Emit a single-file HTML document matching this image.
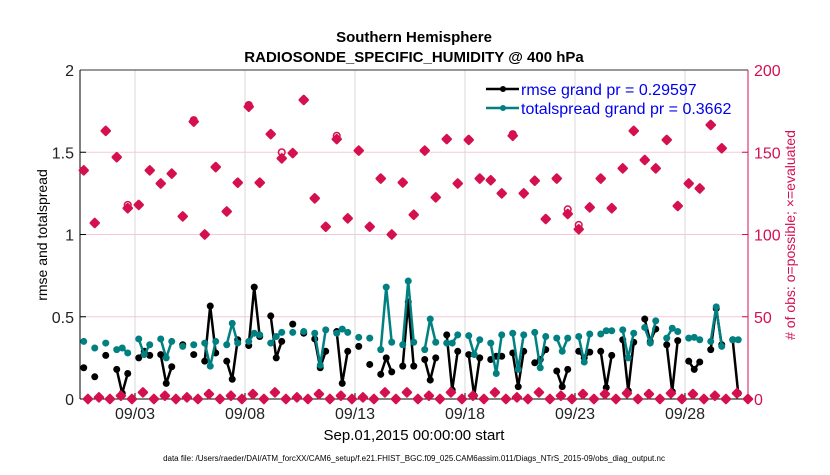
<!DOCTYPE html>
<html><head><meta charset="utf-8"><style>
body{margin:0;background:#fff;}
svg{font-family:"Liberation Sans",sans-serif;}
</style></head><body>
<svg id="chart" width="830" height="470" viewBox="0 0 830 470" xmlns="http://www.w3.org/2000/svg">
<text x="414" y="42" text-anchor="middle" font-size="15" font-weight="bold">Southern Hemisphere</text>
<text x="414" y="62" text-anchor="middle" font-size="15" font-weight="bold">RADIOSONDE_SPECIFIC_HUMIDITY @ 400 hPa</text>
<g id="grid"></g>
<g id="axes"></g>
<g id="marks"></g>
<text transform="translate(47,235) rotate(-90)" text-anchor="middle" font-size="14">rmse and totalspread</text>
<text transform="translate(795,235) rotate(-90)" text-anchor="middle" font-size="14" fill="#d4104f"># of obs: o=possible; ×=evaluated</text>
<text x="414" y="440" text-anchor="middle" font-size="15">Sep.01,2015 00:00:00 start</text>
<text x="414" y="461" text-anchor="middle" font-size="8">data file: /Users/raeder/DAI/ATM_forcXX/CAM6_setup/f.e21.FHIST_BGC.f09_025.CAM6assim.011/Diags_NTrS_2015-09/obs_diag_output.nc</text>
<g>
<line x1="486" y1="89" x2="519" y2="89" stroke="#000" stroke-width="2.5"/><circle cx="503" cy="89" r="3" fill="#000"/>
<text x="521" y="95" font-size="16" fill="#0000ee">rmse grand pr = 0.29597</text>
<line x1="486" y1="108" x2="519" y2="108" stroke="#008080" stroke-width="2.5"/><circle cx="503" cy="108" r="3" fill="#008080"/>
<text x="521" y="114" font-size="16" fill="#0000ee">totalspread grand pr = 0.3662</text>
</g>
</svg>
<script>
const rmseSlots=[0,2,4,6,7,8,10,11,12,14,15,16,18,20,22,23,24,26,27,28,30,31,32,34,35,36,38,40,42,43,44,46,47,48,50,52,54,55,56,58,59,60,62,63,64,66,67,68,70,71,72,74,75,76,78,79,80,82,83,84,86,87,88,90,91,92,94,95,96,98,99,100,102,103,104,106,107,108,110,111,112,114,115,116,118,119];
const rmseValues=[0.19,0.135,0.265,0.18,0.035,0.155,0.25,0.29,0.265,0.27,0.095,0.196,0.33,0.27,0.23,0.565,0.28,0.23,0.12,0.36,0.325,0.68,0.38,0.505,0.25,0.35,0.455,0.40,0.365,0.19,0.29,0.41,0.095,0.29,0.32,0.21,0.15,0.25,0.165,0.20,0.59,0.20,0.24,0.115,0.25,0.39,0.055,0.29,0.27,0.02,0.25,0.24,0.26,0.26,0.28,0.075,0.29,0.22,0.24,0.30,0.17,0.075,0.18,0.29,0.25,0.285,0.29,0.07,0.265,0.36,0.05,0.345,0.486,0.35,0.425,0.33,0.045,0.355,0.23,0.18,0.225,0.30,0.55,0.33,0.36,0.035];
const spreadValues=[0.35,0.31,0.34,0.30,0.31,0.28,0.365,0.27,0.33,0.365,0.25,0.35,0.32,0.33,0.34,0.20,0.35,0.33,0.46,0.34,0.35,0.40,0.39,0.34,0.38,0.405,0.405,0.41,0.40,0.205,0.42,0.40,0.425,0.405,0.375,0.37,0.30,0.68,0.345,0.33,0.717,0.345,0.30,0.486,0.345,0.34,0.34,0.39,0.385,0.27,0.36,0.34,0.155,0.39,0.40,0.18,0.39,0.405,0.19,0.38,0.37,0.29,0.37,0.38,0.225,0.395,0.395,0.415,0.415,0.42,0.25,0.40,0.435,0.34,0.475,0.37,0.43,0.41,0.37,0.375,0.36,0.35,0.56,0.32,0.36,0.36];
const obsPossibleUpper=[139,107,163,147,118,118,139,131,137,111,169.5,100,141,114,131.5,178.7,131.5,161,150,149.5,181.8,122,104.7,160,109.8,151,104.7,134,100,131.6,112,151,122.6,158,131,157.5,134,133,125,161,125,132.7,109.4,134,115.3,105.8,116.5,134,116,140.2,163,145.3,140.2,157.5,117.3,131,128,166.6,152.4];
const obsEvalUpper=[139,107,163,147,116,118,139,131,137,111,168.6,100,141,114,131.5,177.7,131.5,161,146.3,149.5,181.8,122,104.7,158,109.8,151,104.7,134,100,131.6,112,151,122.6,158,131,157.5,134,133,125,160,125,132.7,109.4,134,112.5,103.2,116.5,134,116,140.2,163,145.3,140.2,157.5,117.3,131,128,166.6,152.4];
const obsLower=[0,1,0,2,0,4,0,2,0,1,0,3,0,2,0,3,0,4,0,1,0,3,0,2,0,1,0,4,0,4,0,2,0,4,0,2,0,4,0,1,0,4,0,2,0,3,0,3,0,3.5,0,3,0,3.5,0,3,0,2,0,3.5,0];
const xTickLabels=["09/03","09/08","09/13","09/18","09/23","09/28"];
const xTickDays=[2,7,12,17,22,27];
const yLeftTicks=["0","0.5","1","1.5","2"];
const yRightTicks=["0","50","100","150","200"];

const NS="http://www.w3.org/2000/svg";
const X0=80,X1=748,Y0=399,Y1=70;
const xs=t=>91+22*t;
const yl=v=>Y0-(Y0-Y1)*v/2;
const yr=v=>Y0-(Y0-Y1)*v/200;
function mk(tag,attrs,parent){const e=document.createElementNS(NS,tag);for(const k in attrs)e.setAttribute(k,attrs[k]);parent.appendChild(e);return e;}
const gridG=document.getElementById('grid'),axesG=document.getElementById('axes'),marksG=document.getElementById('marks');
const CR="#d4104f";
xTickDays.forEach((d,i)=>{
 const g=mk('line',{x1:xs(d),x2:xs(d),y1:Y1,y2:Y0,stroke:'#d8d8d8','stroke-width':1},gridG);
 
 
 const tk=mk('line',{x1:xs(d),x2:xs(d),y1:Y0,y2:Y0-6,stroke:'#000'},axesG);
 
 
 const t=mk('text',{x:xs(d),y:Y0+20,'text-anchor':'middle','font-size':16,fill:'#222'},axesG);
 t.textContent=xTickLabels[i];
 
 
});
yRightTicks.forEach((lab,i)=>{
 const v=+lab,y=yr(v);
 if(i>0&&i<yRightTicks.length-1){const g=mk('line',{x1:X0,x2:X1,y1:y,y2:y,stroke:'#f6c8d8','stroke-width':1},gridG);
 
 }
 const tk=mk('line',{x1:X1-6,x2:X1,y1:y,y2:y,stroke:CR},axesG);
 
 
 const t=mk('text',{x:X1+6,y:y+6,'font-size':16,fill:CR},axesG);
 t.textContent=lab;
 
 
});
yLeftTicks.forEach(lab=>{
 const y=yl(+lab);
 const tk=mk('line',{x1:X0,x2:X0+6,y1:y,y2:y,stroke:'#000'},axesG);
 
 
 const t=mk('text',{x:X0-6,y:y+6,'text-anchor':'end','font-size':16,fill:'#222'},axesG);
 t.textContent=lab;
 
 
});
const topAxis=mk('line',{x1:X0,x2:X1,y1:Y1,y2:Y1,stroke:'#333'},axesG);


const botAxis=mk('line',{x1:X0,x2:X1,y1:Y0,y2:Y0,stroke:'#000'},axesG);


const leftAxis=mk('line',{x1:X0,x2:X0,y1:Y1,y2:Y0,stroke:'#000'},axesG);


const rightAxis=mk('line',{x1:X1,x2:X1,y1:Y1,y2:Y0,stroke:CR},axesG);



const slotT=i=>-0.33+0.25*i;
function drawSeries(vals,color,name){
 const g=mk('g',{},marksG);
 
 
 let seg=[];
 const flush=()=>{if(seg.length>1){const p=mk('polyline',{points:seg.join(' '),fill:'none',stroke:color,'stroke-width':2.5,'stroke-linejoin':'round'},g);}seg=[];};
 vals.forEach((v,k)=>{
  if(k>0&&rmseSlots[k]!==rmseSlots[k-1]+1)flush();
  seg.push(xs(slotT(rmseSlots[k])).toFixed(1)+','+yl(v).toFixed(1));
 });
 flush();
 vals.forEach((v,k)=>{
  const c=mk('circle',{cx:xs(slotT(rmseSlots[k])),cy:yl(v),r:3.5,fill:color},g);
  
  
 });
}
drawSeries(rmseValues,'#000','rmse-series');
drawSeries(spreadValues,'#008080','totalspread-series');

function star(x,y,parent){
 const d=`M${x},${y-4}L${x+4},${y}L${x},${y+4}L${x-4},${y}Z`;
 const p=mk('path',{d:d,fill:CR,stroke:CR,'stroke-width':2.5,'stroke-linejoin':'round'},parent);
 
 
}
const og=mk('g',{},marksG);


obsPossibleUpper.forEach((v,j)=>{
 const x=xs(-0.33+0.5*j);
 const c=mk('circle',{cx:x,cy:yr(v),r:3.3,fill:'none',stroke:CR,'stroke-width':1.5},og);
 
 
 star(x,yr(obsEvalUpper[j]),og);
});
obsLower.forEach((v,j)=>{
 star(xs(-0.14+0.5*j),yr(v),og);
});
</script>
</body></html>
